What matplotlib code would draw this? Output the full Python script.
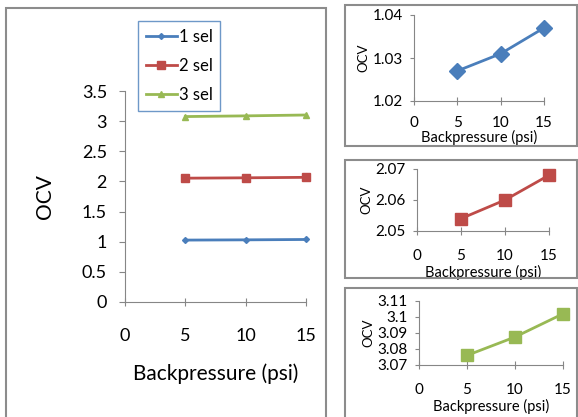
import matplotlib
matplotlib.use("Agg")
import matplotlib.pyplot as plt
from matplotlib.patches import Rectangle

plt.rcParams['font.family'] = ['Lato', 'DejaVu Sans']

backpressure = [5, 10, 15]
series_names = ["1 sel", "2 sel", "3 sel"]
ocv_1sel = [1.027, 1.031, 1.037]
ocv_2sel = [2.054, 2.060, 2.068]
ocv_3sel = [3.076, 3.0875, 3.102]
colors = ["#4a7ebb", "#be4b48", "#98b954"]

W, H = 578, 417
fig = plt.figure(figsize=(W / 100, H / 100), dpi=100)

def rect(x0, y0, x1, y1):
    return [x0 / W, 1 - y1 / H, (x1 - x0) / W, (y1 - y0) / H]

# panel borders
for (x0, y0, x1, y1) in [(6, 8, 326, 430), (345, 5, 577, 146), (345, 160, 577, 278), (345, 288, 577, 430)]:
    fig.patches.append(Rectangle((x0 / W, 1 - y1 / H), (x1 - x0) / W, (y1 - y0) / H,
                                 transform=fig.transFigure, fill=False,
                                 edgecolor="#8c8c8c", linewidth=1.5))

def style(ax, fs):
    for s in ["top", "right"]:
        ax.spines[s].set_visible(False)
    for s in ["left", "bottom"]:
        ax.spines[s].set_color("#868686")
    ax.tick_params(colors="#868686", labelcolor="black", labelsize=fs, length=4, direction="in")
    ax.tick_params(axis="x", direction="inout", length=6)

# main chart
ax = fig.add_axes(rect(125, 91, 306, 302))
ax.plot(backpressure, ocv_1sel, color=colors[0], marker="D", markersize=3, lw=2, label=series_names[0], clip_on=False)
ax.plot(backpressure, ocv_2sel, color=colors[1], marker="s", markersize=6, lw=2, label=series_names[1], clip_on=False)
ax.plot(backpressure, ocv_3sel, color=colors[2], marker="^", markersize=5, lw=2, label=series_names[2], clip_on=False)
ax.set_xlim(0, 15)
ax.set_ylim(0, 3.5)
ax.set_xticks([0, 5, 10, 15])
ax.set_yticks([0, 0.5, 1, 1.5, 2, 2.5, 3, 3.5])
ax.set_yticklabels(["0", "0.5", "1", "1.5", "2", "2.5", "3", "3.5"])
style(ax, 13)
ax.tick_params(axis="x", pad=16)
ax.tick_params(axis="y", direction="out", length=4, pad=9)
ax.set_ylabel("OCV", fontsize=15, labelpad=19)
ax.set_xlabel("Backpressure (psi)", fontsize=15, labelpad=14)
leg = ax.legend(loc="upper left", bbox_to_anchor=((138 - 125) / 181, 1 + (91 - 21) / 211),
                borderaxespad=0,
                fontsize=12, frameon=True, fancybox=False, handlelength=1.9,
                handletextpad=0.1, borderpad=0.45, labelspacing=0.8)
leg.get_frame().set_edgecolor("#4a7ebb")
leg.get_frame().set_linewidth(1.0)

# small charts
specs = [
    (ocv_1sel, colors[0], "D", (414, 15, 544, 101), (1.02, 1.04), [1.02, 1.03, 1.04], ["1.02", "1.03", "1.04"], -2),
    (ocv_2sel, colors[1], "s", (417, 169, 549, 231), (2.05, 2.07), [2.05, 2.06, 2.07], ["2.05", "2.06", "2.07"], 1),
    (ocv_3sel, colors[2], "s", (419, 301, 563, 365), (3.07, 3.11), [3.07, 3.08, 3.09, 3.1, 3.11],
     ["3.07", "3.08", "3.09", "3.1", "3.11"], 1),
]
for vals, c, m, box, ylim, yt, ytl, lp in specs:
    a = fig.add_axes(rect(*box))
    a.plot(backpressure, vals, color=c, marker=m, markersize=8, lw=2, clip_on=False)
    a.set_xlim(0, 15)
    a.set_ylim(*ylim)
    a.set_xticks([0, 5, 10, 15])
    a.set_yticks(yt)
    a.set_yticklabels(ytl)
    style(a, 11)
    a.tick_params(axis="y", direction="out", length=3, pad=5)
    a.tick_params(axis="x", pad=10 if lp > 0 else 8)
    a.set_ylabel("OCV", fontsize=9.5, labelpad=2)
    a.set_xlabel("Backpressure (psi)", fontsize=10.5, labelpad=max(lp, 0))

fig.savefig("out.png", dpi=100)
